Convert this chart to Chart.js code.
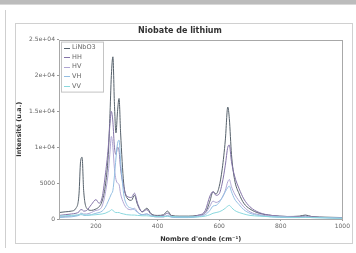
<!DOCTYPE html>
<html>
<head>
<meta charset="utf-8">
<script src="https://cdn.jsdelivr.net/npm/chart.js@4.4.1/dist/chart.umd.min.js"></script>
<style>
  html, body { margin: 0; padding: 0; background: #fff; }
  body { width: 356px; height: 253px; position: relative; overflow: hidden; font-family: "DejaVu Sans", sans-serif; }
  .topbar { position: absolute; left: 0; top: 0; width: 356px; height: 4px; background: #bcbcbc; border-bottom: 1px solid #d8d8d8; }
  .sideline { position: absolute; left: 5px; top: 10px; width: 1px; height: 238px; background: #cfcfcf; }
  .box { position: absolute; left: 15px; top: 23px; width: 336px; height: 219px; border: 1px solid #d0d0d0; }
  #wrap { position: absolute; left: 15px; top: 23px; width: 337px; height: 220px; }
</style>
</head>
<body>
<div class="topbar"></div>
<div class="sideline"></div>
<div class="box"></div>
<div id="wrap"><canvas id="ramanChart"></canvas></div>
<script>
// Raman spectrum - lithium niobate
const wavenumbers = [80, 100, 120, 135, 145, 150, 155, 160, 170, 185,
    200, 210, 220, 230, 240, 245, 250, 255, 260, 265,
    270, 275, 280, 290, 300, 315, 325, 335, 350, 365,
    380, 400, 420, 432, 445, 470, 500, 530, 555, 570,
    580, 590, 600, 610, 620, 628, 633, 640, 650, 665,
    680, 700, 730, 770, 820, 860, 880, 900, 950, 1000];

const linbo3 = [900, 1000, 1100, 1500, 3500, 8000, 8600, 4000, 1500, 1200,
    1400, 1700, 2500, 4500, 9000, 14000, 20000, 22600, 16000, 12000,
    15000, 16800, 12000, 5000, 3000, 2600, 3300, 2000, 1000, 1500,
    700, 500, 600, 1100, 500, 400, 400, 500, 900, 2500,
    3800, 3500, 4500, 7000, 11000, 15600, 14000, 9000, 5500, 3500,
    2200, 1400, 800, 500, 350, 400, 550, 350, 250, 200];

const hh = [500, 600, 700, 800, 1000, 1300, 1300, 1100, 1200, 2000,
    2700, 2200, 3000, 6000, 10000, 13000, 15000, 13500, 10000, 9000,
    10000, 9500, 7000, 4500, 3200, 3000, 3600, 2200, 1000, 1300,
    600, 400, 500, 800, 400, 300, 300, 500, 1200, 3200,
    3800, 3300, 3500, 5000, 7500, 10000, 10300, 8000, 6000, 4200,
    2800, 1700, 900, 500, 350, 300, 400, 300, 200, 150];

const hv = [300, 350, 400, 500, 600, 800, 800, 700, 700, 900,
    1200, 1300, 1800, 3500, 6500, 9000, 11500, 10000, 7000, 5500,
    5000, 4800, 3500, 2200, 1500, 1300, 1500, 1000, 600, 700,
    400, 300, 300, 500, 300, 250, 250, 400, 800, 1800,
    2500, 2300, 2500, 3000, 4000, 5200, 5500, 4500, 3500, 2500,
    1700, 1000, 600, 400, 300, 250, 300, 250, 200, 150];

const vh = [200, 250, 300, 400, 500, 600, 600, 500, 500, 600,
    800, 900, 1100, 1600, 2500, 3000, 3500, 4000, 6000, 8500,
    10500, 11000, 8000, 3500, 2000, 1500, 1300, 900, 600, 700,
    400, 300, 300, 400, 250, 200, 200, 300, 600, 1200,
    1800, 1900, 2300, 3000, 3800, 4400, 4600, 3800, 2800, 2000,
    1300, 800, 500, 300, 200, 200, 250, 200, 150, 100];

const vv = [400, 450, 500, 550, 600, 700, 700, 600, 550, 550,
    600, 650, 700, 800, 1000, 1100, 1300, 1200, 1000, 900,
    900, 900, 800, 700, 600, 550, 550, 500, 450, 450,
    400, 350, 350, 400, 350, 300, 300, 300, 400, 600,
    800, 900, 1000, 1200, 1500, 1800, 1900, 1600, 1200, 900,
    700, 500, 400, 300, 250, 200, 250, 200, 150, 100];

const seriesNames = ['LiNbO3', 'HH', 'HV', 'VH', 'VV'];
const seriesColors = ['#56616b', '#8474a8', '#b0a6d4', '#93bee2', '#8ad8de'];
const seriesValues = [linbo3, hh, hv, vh, vv];

const xTicks = [200, 400, 600, 800, 1000];
const yTickValues = [0, 5000, 10000, 15000, 20000, 25000];
const yTickLabels = ['0', '5000', '1e+04', '1.5e+04', '2e+04', '2.5e+04'];

// frame around plot + legend inside plot
const plotDecor = {
    id: 'plotDecor',
    afterDatasetsDraw(chart) {
        const ctx = chart.ctx;
        const a = chart.chartArea;
        ctx.save();
        ctx.strokeStyle = '#a8a8a8';
        ctx.lineWidth = 1;
        ctx.strokeRect(Math.round(a.left) + 0.5, Math.round(a.top) + 0.5,
            Math.round(a.right - a.left), Math.round(a.bottom - a.top));

        // legend, same order as the series lists
        const lx = a.left + 2, ly = a.top + 2;
        ctx.fillStyle = '#fff';
        ctx.fillRect(lx, ly, 42, 50);
        ctx.strokeStyle = '#c4c4c4';
        ctx.strokeRect(lx + 0.5, ly + 0.5, 42, 50);
        ctx.font = '6.5px "DejaVu Sans"';
        ctx.textBaseline = 'middle';
        seriesNames.forEach((name, i) => {
            const yy = ly + 6 + i * 9.6;
            ctx.strokeStyle = seriesColors[i];
            ctx.beginPath();
            ctx.moveTo(lx + 3, Math.round(yy) + 0.5);
            ctx.lineTo(lx + 9, Math.round(yy) + 0.5);
            ctx.stroke();
            ctx.fillStyle = '#666';
            ctx.fillText(name, lx + 11, yy);
        });
        ctx.restore();
    }
};

const ramanCtx = document.getElementById('ramanChart').getContext('2d');
const ramanChart = new Chart(ramanCtx, {
    type: 'line',
    data: {
        // drawn in reverse so LiNbO3 ends up on top
        datasets: seriesNames.map((name, i) => ({
            label: name,
            data: wavenumbers.map((w, j) => ({ x: w, y: seriesValues[i][j] })),
            borderColor: seriesColors[i],
            borderWidth: 1,
            pointRadius: 0,
            fill: false,
            cubicInterpolationMode: 'monotone'
        })).reverse()
    },
    options: {
        responsive: true,
        maintainAspectRatio: false,
        animation: false,
        layout: { padding: { left: 0, right: 7, top: 0, bottom: 0 } },
        plugins: {
            legend: { display: false },
            tooltip: { enabled: false },
            title: {
                display: true,
                text: 'Niobate de lithium',
                color: '#333',
                font: { family: 'DejaVu Sans', size: 8, weight: 'bold' },
                padding: { top: 3, bottom: 4 }
            }
        },
        scales: {
            x: {
                type: 'linear',
                min: 80,
                max: 1000,
                afterBuildTicks: (scale) => { scale.ticks = xTicks.map(v => ({ value: v })); },
                afterFit: (scale) => { scale.height = 24; },
                grid: { drawOnChartArea: false, tickLength: 2, color: '#999' },
                border: { display: false },
                ticks: {
                    color: '#666', padding: 2,
                    font: { family: 'DejaVu Sans', size: 6 },
                    maxRotation: 0,
                    callback: (v) => String(v)
                },
                title: {
                    display: true,
                    text: "Nombre d'onde (cm⁻¹)",
                    color: '#333',
                    padding: 0,
                    font: { family: 'DejaVu Sans', size: 6.5, weight: 'bold' }
                }
            },
            y: {
                min: 0,
                max: 25000,
                afterBuildTicks: (scale) => { scale.ticks = yTickValues.map(v => ({ value: v })); },
                afterFit: (scale) => { scale.width = 44; },
                grid: { drawOnChartArea: false, tickLength: 2, color: '#999' },
                border: { display: false },
                ticks: {
                    color: '#666', padding: 2,
                    font: { family: 'DejaVu Sans', size: 6 },
                    callback: (v) => yTickLabels[yTickValues.indexOf(v)]
                },
                title: {
                    display: true,
                    text: 'Intensité (u.a.)',
                    color: '#333',
                    padding: 0,
                    font: { family: 'DejaVu Sans', size: 6.5, weight: 'bold' }
                }
            }
        }
    },
    plugins: [plotDecor]
});
</script>
</body>
</html>
